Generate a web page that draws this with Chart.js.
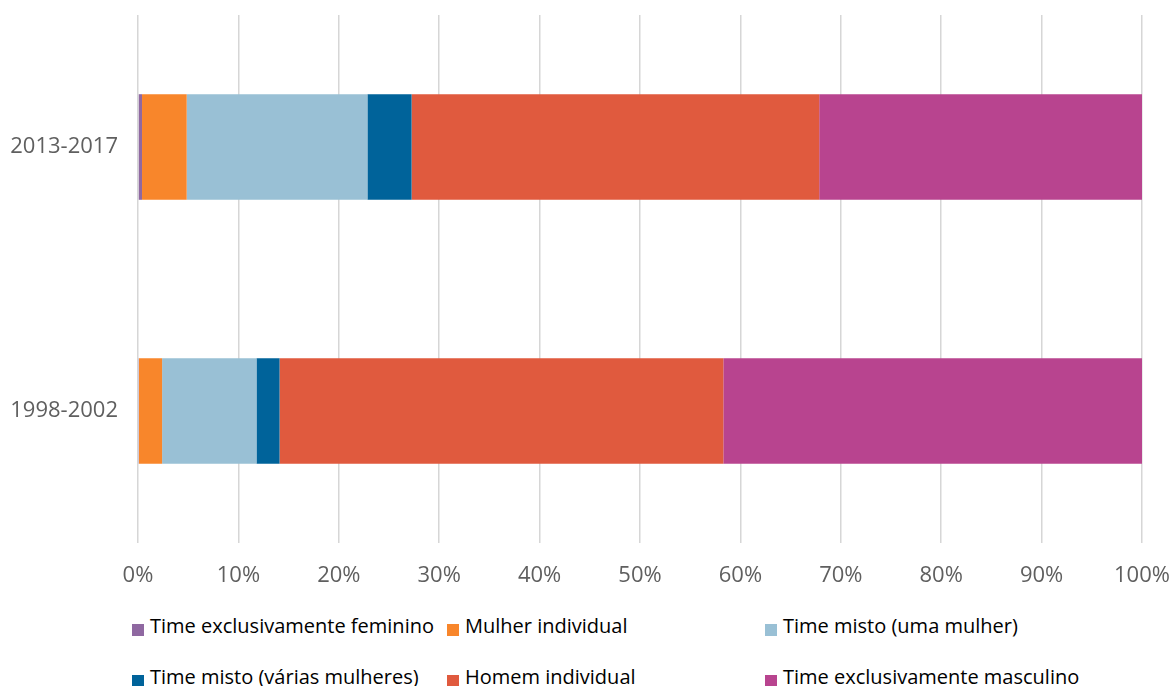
<!DOCTYPE html>
<html>
<head>
<meta charset="utf-8">
<script src="https://cdn.jsdelivr.net/npm/chart.js@4"></script>
<style>
  html, body { margin: 0; padding: 0; background: #fff; overflow: hidden; }
  #wrap { position: relative; width: 1173px; height: 686px; }
  #box { position: absolute; left: 0; top: 0; width: 1173px; height: 600px; }
  #legend {
    position: absolute; left: 132px; top: 600px;
    display: grid; grid-template-columns: 315px 318px auto; grid-auto-rows: 51px;
    font-family: "Open Sans", sans-serif; font-size: 20px; color: #000;
  }
  #legend .item { display: flex; align-items: center; white-space: nowrap; }
  #legend .sw { width: 12px; height: 12px; margin-right: 6px; transform: translateY(4px); }
</style>
</head>
<body>
<div id="wrap">
  <div id="box"><canvas id="chart"></canvas></div>
  <div id="legend"></div>
</div>
<script>
const periods = ['2013-2017', '1998-2002'];
const seriesNames = [
  'Time exclusivamente feminino',
  'Mulher individual',
  'Time misto (uma mulher)',
  'Time misto (várias mulheres)',
  'Homem individual',
  'Time exclusivamente masculino'
];
const seriesColors = ['#8f68a1', '#f8862b', '#99c0d5', '#00639a', '#e05a3e', '#b8448f'];

// share of each team type per period (%)
const feminino = [0.4, 0.1];
const mulherIndividual = [4.45, 2.3];
const mistoUma = [18.0, 9.4];
const mistoVarias = [4.4, 2.3];
const homemIndividual = [40.6, 44.2];
const masculino = [32.15, 41.7];

const xTicks = [0, 10, 20, 30, 40, 50, 60, 70, 80, 90, 100];

const seriesValues = [feminino, mulherIndividual, mistoUma, mistoVarias, homemIndividual, masculino];

const font = { family: '"Open Sans", sans-serif', size: 22 };

const chart = new Chart(document.getElementById('chart'), {
  type: 'bar',
  data: {
    labels: periods,
    datasets: seriesNames.map((name, i) => ({
      label: name,
      data: seriesValues[i],
      backgroundColor: seriesColors[i],
      borderWidth: 0,
      barPercentage: 0.4,
      categoryPercentage: 1
    }))
  },
  options: {
    indexAxis: 'y',
    responsive: true,
    maintainAspectRatio: false,
    animation: false,
    layout: { padding: { left: 10, right: 31, top: 15, bottom: 0 } },
    plugins: { legend: { display: false }, tooltip: { enabled: false } },
    scales: {
      x: {
        stacked: true,
        min: 0, max: 100,
        afterBuildTicks: s => { s.ticks = xTicks.map(v => ({ value: v })); },
        // fixed height, no extra side padding: the outer padding sets the plot edges
        afterFit: s => { s.height = 57; s.paddingLeft = 0; s.paddingRight = 0; },
        grid: { color: '#d6d6d6', lineWidth: 1.5, drawTicks: false },
        border: { display: false },
        ticks: { font, color: '#5f5f5f', padding: 20, callback: v => v + '%' }
      },
      y: {
        stacked: true,
        afterFit: s => { s.width = 128; s.paddingTop = 0; s.paddingBottom = 0; },
        grid: { display: false, drawTicks: false },
        border: { display: false },
        ticks: { font, color: '#5f5f5f', padding: 20 }
      }
    }
  }
});

// legend laid out in three columns beneath the chart
const legend = document.getElementById('legend');
chart.options.plugins.legend.labels.generateLabels(chart).forEach(item => {
  const el = document.createElement('div');
  el.className = 'item';
  el.innerHTML = `<span class="sw" style="background:${item.fillStyle}"></span>${item.text}`;
  legend.appendChild(el);
});
</script>
</body>
</html>
